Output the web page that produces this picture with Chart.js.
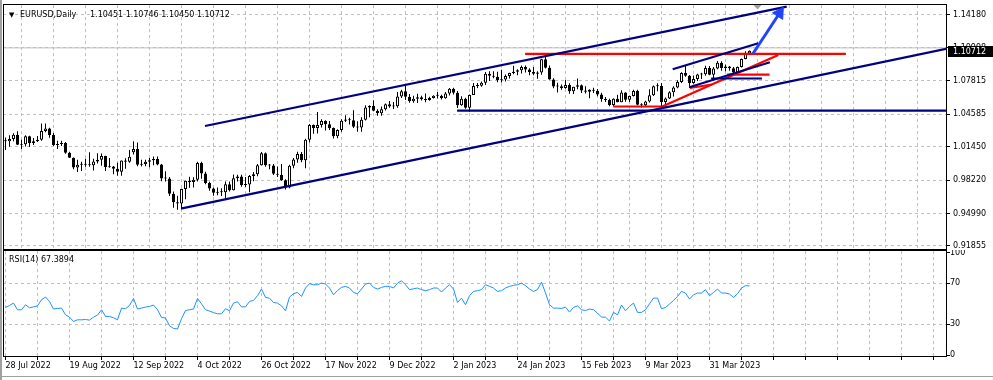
<!DOCTYPE html>
<html><head><meta charset="utf-8">
<script src="https://cdn.jsdelivr.net/npm/chart.js@4"></script>
<style>
html,body{margin:0;padding:0;background:#fff;}
#wrap{position:relative;width:993px;height:380px;overflow:hidden;background:#fff;font-family:'DejaVu Sans',sans-serif;}
canvas{position:absolute;left:0;}
.txt{position:absolute;font-size:8px;line-height:10px;color:#000;white-space:pre;font-family:'DejaVu Sans',sans-serif;}
</style></head><body>
<div id="wrap">
<canvas id="main" width="993" height="250" style="top:0"></canvas>
<canvas id="rsi" width="993" height="130" style="top:250px"></canvas>
<div class="txt" style="left:9px;top:10px;font-size:7px">▼</div>
<div class="txt" id="sym" style="left:20px;top:10px"></div>
<div class="txt" id="ohlc" style="left:90px;top:10px"></div>
<div class="txt" id="rsiLbl" style="left:9px;top:255px"></div>
<div style="position:absolute;left:0;top:0;width:2px;height:380px;background:#a0a0a0"></div>
<div style="position:absolute;left:0;top:376px;width:993px;height:1px;background:#a0a0a0"></div>
</div>
<script>
// ---------- data ----------
const symbolName = 'EURUSD,Daily';
const dateLabels = ['28 Jul 2022','19 Aug 2022','12 Sep 2022','4 Oct 2022','26 Oct 2022','17 Nov 2022','9 Dec 2022','2 Jan 2023','24 Jan 2023','15 Feb 2023','9 Mar 2023','31 Mar 2023'];
const labelEvery = 16;
const gridEvery = 8;
const opens = [1.0198,1.0197,1.0220,1.0260,1.0164,1.0167,1.0246,1.0180,1.0197,1.0211,
1.0297,1.0320,1.0257,1.0160,1.0171,1.0180,1.0087,1.0037,0.9943,0.9969,
0.9970,0.9975,0.9966,1.0001,1.0017,1.0054,0.9946,0.9953,0.9930,0.9903,
1.0012,0.9999,1.0090,1.0121,0.9969,0.9978,0.9999,1.0013,1.0025,0.9971,
0.9837,0.9836,0.9690,0.9607,0.9594,0.9736,0.9815,0.9802,0.9824,0.9987,
0.9885,0.9794,0.9740,0.9700,0.9705,0.9703,0.9780,0.9722,0.9839,0.9857,
0.9773,0.9779,0.9860,0.9878,0.9965,1.0080,0.9965,0.9962,0.9882,0.9874,
0.9820,0.9750,0.9960,1.0020,1.0073,1.0014,1.0212,1.0355,1.0325,1.0353,
1.0393,1.0362,1.0325,1.0245,1.0305,1.0395,1.0407,1.0400,1.0338,1.0330,
1.0406,1.0523,1.0537,1.0491,1.0467,1.0507,1.0555,1.0533,1.0536,1.0630,
1.0680,1.0628,1.0585,1.0609,1.0623,1.0604,1.0596,1.0616,1.0637,1.0638,
1.0612,1.0660,1.0705,1.0665,1.0545,1.0608,1.0520,1.0645,1.0732,1.0733,
1.0762,1.0851,1.0830,1.0821,1.0788,1.0794,1.0829,1.0856,1.0870,1.0884,
1.0915,1.0890,1.0867,1.0850,1.0863,1.0990,1.0909,1.0795,1.0727,1.0728,
1.0712,1.0742,1.0680,1.0725,1.0738,1.0688,1.0676,1.0695,1.0685,1.0650,
1.0605,1.0595,1.0547,1.0608,1.0575,1.0669,1.0598,1.0635,1.0683,1.0549,
1.0545,1.0581,1.0641,1.0730,1.0733,1.0577,1.0610,1.0670,1.0717,1.0770,
1.0858,1.0830,1.0760,1.0800,1.0843,1.0846,1.0905,1.0840,1.0900,1.0955,
1.0905,1.0920,1.0902,1.0862,1.0915,1.0993,1.10451];
const highs = [1.0234,1.0254,1.0274,1.0294,1.0211,1.0254,1.0250,1.0229,1.0248,1.0368,
1.0368,1.0328,1.0276,1.0203,1.0202,1.0190,1.0096,1.0040,1.0018,0.9999,
1.0029,1.0090,1.0028,1.0080,1.0079,1.0057,1.0034,0.9958,0.9988,1.0012,
1.0033,1.0113,1.0198,1.0185,1.0019,1.0017,1.0036,1.0050,1.0050,0.9977,
0.9907,0.9852,0.9710,0.9670,0.9738,0.9815,0.9853,0.9850,0.9999,0.9999,
0.9903,0.9806,0.9748,0.9750,0.9742,0.9807,0.9808,0.9876,0.9874,0.9872,
0.9851,0.9871,0.9900,0.9977,1.0094,1.0088,0.9977,0.9976,0.9953,0.9976,
0.9830,0.9969,1.0034,1.0096,1.0093,1.0222,1.0364,1.0359,1.0481,1.0410,
1.0400,1.0392,1.0330,1.0313,1.0411,1.0448,1.0425,1.0497,1.0390,1.0429,
1.0545,1.0545,1.0594,1.0506,1.0532,1.0563,1.0587,1.0576,1.0673,1.0695,
1.0736,1.0653,1.0638,1.0657,1.0636,1.0658,1.0627,1.0643,1.0673,1.0646,
1.0673,1.0713,1.0714,1.0683,1.0632,1.0618,1.0648,1.0760,1.0760,1.0776,
1.0867,1.0875,1.0874,1.0870,1.0888,1.0843,1.0859,1.0927,1.0893,1.0929,
1.0930,1.0903,1.0914,1.0874,1.0994,1.1033,1.0929,1.0806,1.0763,1.0745,
1.0790,1.0758,1.0725,1.0805,1.0745,1.0730,1.0700,1.0714,1.0703,1.0665,
1.0624,1.0608,1.0612,1.0646,1.0691,1.0670,1.0637,1.0694,1.0695,1.0565,
1.0589,1.0700,1.0736,1.0759,1.0760,1.0621,1.0680,1.0730,1.0788,1.0865,
1.0930,1.0838,1.0833,1.0850,1.0860,1.0927,1.0925,1.0915,1.0973,1.0970,
1.0940,1.0925,1.0915,1.0920,1.0998,1.1068,1.10746];
const lows = [1.0113,1.0145,1.0197,1.0160,1.0123,1.0147,1.0141,1.0160,1.0190,1.0201,
1.0285,1.0232,1.0150,1.0122,1.0150,1.0075,1.0034,0.9926,0.9900,0.9910,
0.9950,0.9950,0.9914,0.9983,0.9960,0.9910,0.9940,0.9877,0.9864,0.9864,
0.9930,0.9990,1.0070,0.9956,0.9952,0.9955,0.9945,0.9966,0.9966,0.9810,
0.9807,0.9667,0.9553,0.9535,0.9536,0.9637,0.9747,0.9750,0.9808,0.9835,
0.9782,0.9718,0.9670,0.9676,0.9668,0.9632,0.9710,0.9720,0.9807,0.9757,
0.9755,0.9704,0.9810,0.9858,0.9962,0.9950,0.9927,0.9871,0.9851,0.9814,
0.9730,0.9742,0.9935,0.9990,0.9994,0.9936,1.0186,1.0270,1.0272,1.0330,
1.0300,1.0306,1.0223,1.0225,1.0290,1.0383,1.0358,1.0325,1.0290,1.0290,
1.0397,1.0430,1.0487,1.0443,1.0443,1.0495,1.0521,1.0510,1.0521,1.0616,
1.0595,1.0569,1.0570,1.0567,1.0590,1.0573,1.0588,1.0610,1.0610,1.0600,
1.0608,1.0640,1.0650,1.0519,1.0540,1.0511,1.0483,1.0645,1.0713,1.0724,
1.0740,1.0780,1.0807,1.0768,1.0766,1.0776,1.0805,1.0845,1.0835,1.0852,
1.0863,1.0835,1.0836,1.0801,1.0840,1.0900,1.0793,1.0709,1.0669,1.0696,
1.0705,1.0657,1.0655,1.0701,1.0663,1.0659,1.0613,1.0663,1.0632,1.0579,
1.0577,1.0536,1.0533,1.0573,1.0575,1.0580,1.0577,1.0630,1.0546,1.0524,
1.0537,1.0572,1.0635,1.0680,1.0516,1.0551,1.0605,1.0631,1.0710,1.0760,
1.0822,1.0713,1.0752,1.0780,1.0800,1.0831,1.0835,1.0788,1.0893,1.0880,
1.0875,1.0880,1.0830,1.0840,1.0910,1.0990,1.10450];
const closes = [1.0197,1.0220,1.0260,1.0164,1.0167,1.0246,1.0180,1.0197,1.0211,1.0297,
1.0320,1.0257,1.0160,1.0171,1.0180,1.0087,1.0037,0.9943,0.9969,0.9970,
0.9975,0.9966,1.0001,1.0017,1.0054,0.9946,0.9953,0.9930,0.9903,1.0012,
0.9999,1.0048,1.0121,0.9969,0.9978,0.9999,1.0013,1.0025,0.9971,0.9837,
0.9836,0.9690,0.9607,0.9594,0.9736,0.9815,0.9802,0.9824,0.9987,0.9885,
0.9794,0.9740,0.9700,0.9705,0.9703,0.9780,0.9722,0.9839,0.9857,0.9773,
0.9779,0.9860,0.9878,0.9965,1.0080,0.9965,0.9962,0.9882,0.9874,0.9820,
0.9750,0.9960,1.0020,1.0073,1.0014,1.0212,1.0355,1.0325,1.0353,1.0393,
1.0362,1.0325,1.0245,1.0305,1.0395,1.0407,1.0400,1.0338,1.0330,1.0406,
1.0523,1.0537,1.0491,1.0467,1.0507,1.0555,1.0533,1.0536,1.0630,1.0680,
1.0628,1.0585,1.0609,1.0623,1.0604,1.0596,1.0616,1.0637,1.0638,1.0612,
1.0660,1.0705,1.0665,1.0545,1.0608,1.0520,1.0645,1.0732,1.0733,1.0762,
1.0851,1.0830,1.0821,1.0788,1.0794,1.0829,1.0856,1.0870,1.0884,1.0915,
1.0890,1.0867,1.0850,1.0863,1.0990,1.0909,1.0795,1.0727,1.0728,1.0712,
1.0742,1.0680,1.0725,1.0738,1.0688,1.0676,1.0695,1.0685,1.0650,1.0605,
1.0595,1.0547,1.0608,1.0575,1.0669,1.0598,1.0635,1.0683,1.0549,1.0545,
1.0581,1.0641,1.0730,1.0733,1.0577,1.0610,1.0670,1.0717,1.0770,1.0858,
1.0830,1.0760,1.0800,1.0843,1.0846,1.0905,1.0840,1.0900,1.0955,1.0905,
1.0920,1.0902,1.0862,1.0915,1.0993,1.1045,1.10712];
const rsiPeriod = 14;
const rsiValues = [46.4,48.4,50.7,44.2,44.2,49.1,46.1,47,48,54,
56.6,52.3,44.9,45.5,45.8,39.3,37,32.8,34.4,34.4,
34.7,34.1,37,39,44.2,37.7,37.7,36.4,34.4,45.8,
45.2,48.4,55.2,44.9,45.8,46.8,47.4,48.8,44.2,36.7,
36.1,28.6,26,25.4,35.4,43.5,44.2,44.9,55.2,50,
44.2,42.9,41.4,40.3,40.3,45.2,43.2,50.7,52,47,
47,52.3,53.3,57.9,64.4,56.2,55.5,51.3,50.7,48,
43.2,56.6,59.8,61.1,57.2,65.4,69.6,68.6,68.6,70.2,
69.3,65.4,58.8,63,66,67,65.4,61.1,59.8,64.4,
69.3,70.2,66,64.4,66,67,67,65.4,70.2,72.5,
68.6,63.8,64.7,65.4,63.8,62.8,63.8,65.4,65.4,61.5,
65.4,68.6,64.4,51.3,55.5,49.1,57.9,62.1,62.8,63.8,
68.6,67,65.4,62.1,62.8,65.4,67,68,68.6,70.2,
67.7,64.4,62.1,63.8,71.2,60.5,49.1,45.8,45.8,45.5,
46.8,41.9,46.4,48,44.2,43.5,44.9,44.2,41,37,
37,33.2,41.6,39.3,48.8,43.2,47.4,50.7,41.6,41.6,
44.2,50,55.6,55.6,45.2,46.4,49.7,53.3,57.2,62.1,
60.5,54.6,58.8,60.5,60.5,63.8,57.9,61.1,64.4,60.5,
60.5,59.5,56.2,59.8,65.4,67.7,67.3894];
const priceTicks = [0.91855,0.94990,0.98220,1.01450,1.04585,1.07815,1.10998,1.14180];
const rsiTicks = [0,30,70,100];
const rsiLevels = [30,70];
// drawn objects: [bar index, price]
const channelTop    = [[49.875,1.03445],[195.3,1.14983]];
const channelBottom = [[44.125,0.95485],[235.125,1.10910]];
const supportFlat   = [[112.9,1.0493],[235.125,1.0493]];
const resistFlat    = [[129.9,1.10428],[210.1,1.10428]];
const miniTop       = [[166.8,1.08929],[188.2,1.11443]];
const miniBottom    = [[170.95,1.07188],[191.1,1.09605]];
const miniFlatNavy  = [[176.4,1.08039],[189.1,1.08039]];
const miniFlatRed   = [[180.4,1.08406],[191.0,1.08406]];
const redRise       = [[164.05,1.05311],[193.2,1.10311]];
const redBase       = [[151.95,1.05331],[164.05,1.05331]];
const redSmall      = [[171.1,1.07120],[176.6,1.07459]];
const arrowUp       = [[186.8,1.10408],[193.5,1.14354]];
const greyLevel     = [[-0.625,1.10998],[235.125,1.10998]];
const shiftMarkerBar = 188;

// ---------- build ----------
const N = closes.length;
const X_MIN = -0.625, X_MAX = 235.125;
const FONT = {family:"'DejaVu Sans', sans-serif", size:8};
const gridBars = [];
for (let v = 0; v <= X_MAX; v += gridEvery) gridBars.push(v);

document.getElementById('sym').textContent = symbolName;
document.getElementById('ohlc').textContent = [opens[N-1],highs[N-1],lows[N-1],closes[N-1]].map(v=>v.toFixed(5)).join(' ');
document.getElementById('rsiLbl').textContent = 'RSI(' + rsiPeriod + ') ' + rsiValues[N-1].toFixed(4);

const idx = closes.map((_, i) => i);
const wickSet = {
  type:'bar', data: idx.map(i => ({x:i, y:[lows[i], highs[i]]})),
  backgroundColor:'#000', borderWidth:0, barThickness:1, grouped:false, inflateAmount:0, order:3
};
const bodySet = {
  type:'bar', data: idx.map(i => ({x:i, y:[opens[i], closes[i]]})),
  backgroundColor: idx.map(i => closes[i] >= opens[i] ? '#ffffff' : '#000000'),
  borderColor:'#000', borderWidth:1, borderSkipped:false, barThickness:3, grouped:false,
  inflateAmount:0, minBarLength:1, order:2
};
function seg(pts, color, width, extra) {
  return Object.assign({
    type:'line', data: pts.map(p => ({x:p[0], y:p[1]})),
    borderColor:color, backgroundColor:color, borderWidth:width,
    pointRadius:0, tension:0, fill:false, order:1
  }, extra || {});
}
const NAVY = '#000080', RED = '#ff0000', BLUE = '#1f45fa';
const lineSets = [
  seg(greyLevel, '#c0c0c0', 1, {order:4}),
  seg(channelTop, NAVY, 2.2),
  seg(channelBottom, NAVY, 2.2),
  seg(supportFlat, NAVY, 2.2),
  seg(miniTop, NAVY, 2.2),
  seg(miniBottom, NAVY, 2.2),
  seg(miniFlatNavy, NAVY, 2.2),
  seg(resistFlat, RED, 2.2),
  seg(miniFlatRed, RED, 2.2),
  seg(redRise, RED, 2.2),
  seg(redBase, RED, 2.2),
  seg(redSmall, RED, 2.2),
  seg(arrowUp, BLUE, 3, {order:0, pointRadius:[0,7], pointStyle:'triangle', rotation:33,
      pointBackgroundColor:BLUE, pointBorderColor:BLUE, pointBorderWidth:1})
];

function noPad(s) {
  s.paddingTop = 0; s.paddingBottom = 0; s.paddingLeft = 0; s.paddingRight = 0;
}

const framePlugin = {
  id:'frame',
  afterDatasetsDraw(chart) {
    const {ctx, chartArea:a} = chart;
    ctx.save();
    ctx.strokeStyle = '#000'; ctx.lineWidth = 1;
    ctx.strokeRect(a.left + 0.5, a.top - 0.5, a.right - a.left, a.bottom - a.top + 1);
    ctx.restore();
  }
};
const priceBoxPlugin = {
  id:'pricebox',
  afterDraw(chart) {
    const {ctx, chartArea:a} = chart;
    const last = closes[N-1];
    const y = Math.round(chart.scales.y.getPixelForValue(last));
    ctx.save();
    ctx.fillStyle = '#000';
    ctx.fillRect(a.right + 2, y - 5, chart.width - a.right - 2, 11);
    ctx.fillStyle = '#fff';
    ctx.font = "8px 'DejaVu Sans', sans-serif";
    ctx.textBaseline = 'middle'; ctx.textAlign = 'left';
    ctx.fillText(last.toFixed(5), a.right + 7, y + 0.5);
    const px = chart.scales.x.getPixelForValue(shiftMarkerBar);
    ctx.fillStyle = '#a0a0a0';
    ctx.beginPath();
    ctx.moveTo(px - 4, a.top); ctx.lineTo(px + 4, a.top); ctx.lineTo(px, a.top + 4.5);
    ctx.closePath(); ctx.fill();
    ctx.restore();
  }
};

const gridCommon = {color:'#c0c0c0', lineWidth:1, borderDash:[3,3], tickColor:'#000', tickBorderDash:[], tickLength:4};

new Chart(document.getElementById('main'), {
  type:'bar',
  data:{datasets:[...lineSets, bodySet, wickSet]},
  options:{
    responsive:false, animation:false, devicePixelRatio:1, events:[],
    layout:{autoPadding:false, padding:{left:3, top:5, right:0, bottom:1}},
    plugins:{legend:{display:false}, tooltip:{enabled:false}},
    scales:{
      x:{type:'linear', min:X_MIN, max:X_MAX, offset:false,
        afterBuildTicks:s => { s.ticks = gridBars.map(v => ({value:v})); },
        afterFit:s => { s.height = 0; noPad(s); },
        ticks:{display:false},
        grid:Object.assign({}, gridCommon, {drawTicks:false}),
        border:{display:false, dash:[3,3]}
      },
      y:{type:'linear', position:'right', min:0.91550, max:1.15147,
        afterBuildTicks:s => { s.ticks = priceTicks.map(v => ({value:v})); },
        afterFit:s => { s.width = 47; noPad(s); },
        ticks:{autoSkip:false, padding:3, color:'#000', font:FONT, callback:v => Number(v).toFixed(5)},
        grid:Object.assign({}, gridCommon, {drawTicks:true}),
        border:{display:false, dash:[3,3]}
      }
    }
  },
  plugins:[framePlugin, priceBoxPlugin]
});

new Chart(document.getElementById('rsi'), {
  type:'line',
  data:{datasets:[{
    data: rsiValues.map((v, i) => ({x:i, y:v})),
    borderColor:'#1e90ff', borderWidth:1, pointRadius:0, tension:0, fill:false
  }]},
  options:{
    responsive:false, animation:false, devicePixelRatio:1, events:[],
    layout:{autoPadding:false, padding:{left:3, top:1, right:0, bottom:0}},
    plugins:{legend:{display:false}, tooltip:{enabled:false}},
    scales:{
      x:{type:'linear', min:X_MIN, max:X_MAX, offset:false,
        afterBuildTicks:s => { s.ticks = gridBars.map(v => ({value:v})); },
        afterFit:s => { s.height = 24; noPad(s); },
        ticks:{autoSkip:false, maxRotation:0, minRotation:0, align:'start', padding:1, color:'#000', font:FONT,
          callback:v => (v % labelEvery === 0 && dateLabels[v / labelEvery]) ? dateLabels[v / labelEvery] : ''},
        grid:Object.assign({}, gridCommon, {drawTicks:true}),
        border:{display:false, dash:[3,3]}
      },
      y:{type:'linear', position:'right', min:-0.9, max:101.5,
        afterBuildTicks:s => { s.ticks = rsiTicks.map(v => ({value:v})); },
        afterFit:s => { s.width = 47; noPad(s); },
        ticks:{autoSkip:false, padding:0, color:'#000', font:FONT, callback:v => String(v)},
        grid:Object.assign({}, gridCommon, {drawTicks:true,
          color:c => (c.tick && rsiLevels.includes(c.tick.value)) ? '#c0c0c0' : 'rgba(0,0,0,0)'}),
        border:{display:false, dash:[3,3]}
      }
    }
  },
  plugins:[framePlugin]
});
</script>
</body></html>
